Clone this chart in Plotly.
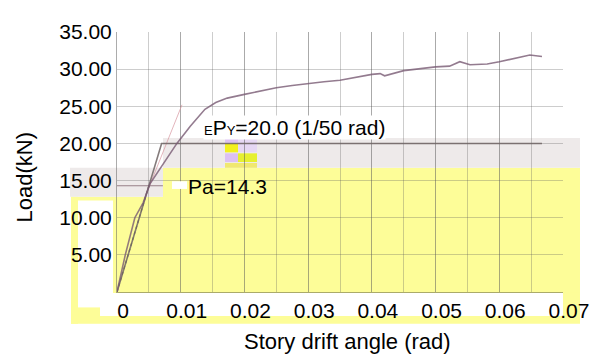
import plotly.graph_objects as go

# ---------------- data ----------------
drift = [0, 0.0013, 0.0028, 0.0041, 0.0052, 0.0075, 0.0094, 0.0115, 0.0138, 0.0155,
         0.0173, 0.0200, 0.0225, 0.0250, 0.0275, 0.0300, 0.0325, 0.0350, 0.0375,
         0.0400, 0.0413, 0.0420, 0.0450, 0.0476, 0.0500, 0.0522, 0.0538, 0.0554,
         0.0581, 0.0600, 0.0628, 0.0648, 0.0667]
load = [0, 5.0, 10.0, 12.0, 14.6, 17.5, 20.0, 22.3, 24.6, 25.5,
        26.1, 26.6, 27.1, 27.5, 27.8, 28.1, 28.3, 28.5, 28.9,
        29.3, 29.4, 29.1, 29.8, 30.1, 30.3, 30.4, 31.0, 30.6,
        30.7, 31.0, 31.5, 31.9, 31.7]

bilinear_x = [0, 0.0070, 0.0667]
bilinear_y = [0, 20.0, 20.0]

secant_x = [0, 0.0050]
secant_y = [0, 14.3]

pa_x = [0, 0.0072]
pa_y = [14.3, 14.3]

stiff_x = [0.0045, 0.0102]
stiff_y = [13.0, 25.2]

x_tick_vals = [0, 0.01, 0.02, 0.03, 0.04, 0.05, 0.06, 0.07]
x_tick_text = ["0", "0.01", "0.02", "0.03", "0.04", "0.05", "0.06", "0.07"]
y_tick_vals = [5, 10, 15, 20, 25, 30, 35]
y_tick_text = ["5.00", "10.00", "15.00", "20.00", "25.00", "30.00", "35.00"]

# ---------------- layout geometry ----------------
# the page body has an 8px margin, so the figure is drawn 8px in and
# reduced so that it does not overflow the 614x363 window
OFF = 8
W, H = 614 - 2 * OFF, 363 - 2 * OFF
PLOT_X0, PLOT_X1, PLOT_Y0, PLOT_Y1 = 117, 563, 22, 292  # window pixels
L, T = PLOT_X0 - OFF, PLOT_Y0 - OFF
PW, PH = PLOT_X1 - PLOT_X0, PLOT_Y1 - PLOT_Y0
R, B = W - L - PW, H - T - PH


def px(x):
    return (x - PLOT_X0) / PW


def py(y):
    return (PLOT_Y1 - y) / PH


def rect(x0, y0, x1, y1, color, layer="below"):
    return dict(type="rect", xref="paper", yref="paper", layer=layer,
                x0=px(x0), x1=px(x1), y0=py(y1), y1=py(y0),
                fillcolor=color, line=dict(width=0))


YEL = "#fdfd98"
GRY = "#eeeaea"
LAV = "#dcc0f4"
shapes = [
    rect(163, 163, 580, 293, YEL),
    rect(113, 193, 163, 293, YEL),
    rect(71, 193, 113, 197, YEL),
    rect(71, 193, 78, 325, YEL),
    rect(71, 308, 100, 325, YEL),
    rect(100, 317, 580, 325, YEL),
    rect(563, 293, 580, 317, YEL),
    rect(70, 163, 163, 193, GRY),
    rect(163, 132, 580, 163, GRY),
    # garbled glyph blob
    rect(225, 132, 238, 137, LAV),
    rect(225, 138, 238, 147, "#f2f020"),
    rect(238, 132, 257, 147, "#e6d8f4"),
    rect(225, 148, 238, 157, LAV),
    rect(238, 148, 257, 157, "#e6f030"),
    rect(225, 158, 257, 163, "#f0e870"),
    rect(172, 177, 187, 185, "white", layer="above"),
]

FONT = "Liberation Sans, Arial, sans-serif"

fig = go.Figure()
fig.add_trace(go.Scatter(x=stiff_x, y=stiff_y, mode="lines",
                         line=dict(color="rgba(215,150,160,0.7)", width=1),
                         hoverinfo="skip", showlegend=False))
fig.add_trace(go.Scatter(x=pa_x, y=pa_y, mode="lines",
                         line=dict(color="rgba(130,100,110,0.8)", width=1.2),
                         showlegend=False))
fig.add_trace(go.Scatter(x=secant_x, y=secant_y, mode="lines",
                         line=dict(color="rgba(90,90,60,0.8)", width=1.2, dash="dot"),
                         showlegend=False))
fig.add_trace(go.Scatter(x=bilinear_x, y=bilinear_y, mode="lines",
                         line=dict(color="rgba(110,100,100,0.85)", width=1.6),
                         showlegend=False))
fig.add_trace(go.Scatter(x=drift, y=load, mode="lines",
                         line=dict(color="rgba(120,90,115,0.8)", width=1.6),
                         showlegend=False))

GRID = "rgba(90,90,90,0.3)"
fig.update_layout(
    width=W, height=H,
    margin=dict(l=L, r=R, t=T, b=B, pad=0),
    paper_bgcolor="white", plot_bgcolor="rgba(0,0,0,0)",
    font=dict(family=FONT, size=21, color="black"),
    showlegend=False,
    shapes=shapes,
    xaxis=dict(range=[0, 0.07], tickvals=x_tick_vals, ticktext=x_tick_text,
               showgrid=True, gridcolor=GRID, gridwidth=1,
               minor=dict(dtick=0.005, showgrid=True, gridcolor=GRID, gridwidth=1),
               zeroline=False, showline=True, linecolor="rgba(90,90,60,0.5)",
               mirror=False, ticks="", ticklabelshift=6,
               tickfont=dict(size=21), fixedrange=True),
    yaxis=dict(range=[0, 35], tickvals=y_tick_vals, ticktext=y_tick_text,
               showgrid=True, gridcolor=GRID, gridwidth=1,
               zeroline=False, showline=True, linecolor="rgba(90,90,90,0.5)",
               ticks="", tickfont=dict(size=21), fixedrange=True),
    annotations=[
        dict(text="<span style=\"font-size:13px\">E</span>P<span style=\"font-size:13px\">Y</span>=20.0 (1/50 rad)",
             xref="paper", yref="paper", x=px(203), y=py(121),
             xanchor="left", yanchor="middle", showarrow=False,
             bgcolor="white", borderpad=0, font=dict(size=21)),
        dict(text="Pa=14.3", xref="paper", yref="paper", x=px(186), y=py(182),
             xanchor="left", yanchor="middle", showarrow=False, font=dict(size=21)),
        dict(text="Story drift angle (rad)", xref="paper", yref="paper",
             x=px(347), y=py(343), xanchor="center", yanchor="middle",
             showarrow=False, font=dict(size=22)),
        dict(text="Load(kN)", xref="paper", yref="paper", textangle=-90,
             x=px(24), y=py(173), xanchor="center", yanchor="middle",
             showarrow=False, font=dict(size=22)),
    ],
)

fig.write_html("out.html")
